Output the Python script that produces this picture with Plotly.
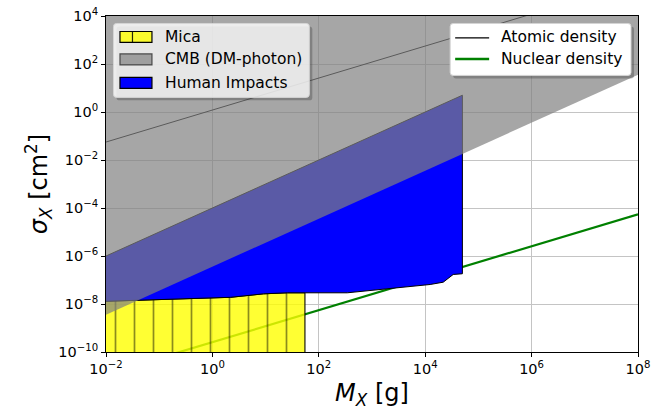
import plotly.graph_objects as go

# ---------------- data ----------------
# Mica exclusion region (upper boundary), mass in g, cross-section in cm^2
mica_mass = [1e-2, 2.2, 9.1, 25.6, 55]
mica_sigma_top = [1.3e-8, 1.9e-8, 2.65e-8, 2.93e-8, 2.93e-8]
mica_sigma_floor = 1e-12

# Human impacts region: lower boundary and upper boundary
hi_mass_low = [1e-2, 2.2, 9.1, 25.6, 343, 927, 3.86e3, 1.24e4, 2.18e4, 2.95e4, 3.36e4, 5e4]
hi_sigma_low = [1.3e-8, 1.9e-8, 2.65e-8, 2.93e-8, 2.93e-8, 3.65e-8, 5.0e-8, 6.5e-8,
                8.1e-8, 1.32e-7, 1.7e-7, 1.82e-7]
hi_mass_up = [5e4, 1e-2]
hi_sigma_up = [5.0, 1e-6]

# CMB (DM-photon) region: lower boundary, open to the top
cmb_mass = [1e-2, 1e8]
cmb_sigma_low = [3.6e-9, 36.0]
cmb_sigma_top = 1e6

# density reference lines
atomic_mass = [1e-2, 1e8]
atomic_sigma = [0.056, 2.6e5]
nuclear_mass = [1e-2, 1e8]
nuclear_sigma = [1.2e-11, 5.5e-5]

# ticks
x_tickvals = [1e-2, 1e0, 1e2, 1e4, 1e6, 1e8]
x_ticktext = ["10<sup>−2</sup>", "10<sup>0</sup>", "10<sup>2</sup>", "10<sup>4</sup>",
              "10<sup>6</sup>", "10<sup>8</sup>"]
y_tickvals = [1e-10, 1e-8, 1e-6, 1e-4, 1e-2, 1e0, 1e2, 1e4]
y_ticktext = ["10<sup>−10</sup>", "10<sup>−8</sup>", "10<sup>−6</sup>", "10<sup>−4</sup>",
              "10<sup>−2</sup>", "10<sup>0</sup>", "10<sup>2</sup>", "10<sup>4</sup>"]

legend_left_labels = ["Mica", "CMB (DM-photon)", "Human Impacts"]
legend_right_labels = ["Atomic density", "Nuclear density"]

FONT = "DejaVu Sans"

fig = go.Figure()

# lines (drawn below the regions)
fig.add_trace(go.Scatter(x=atomic_mass, y=atomic_sigma, mode="lines",
                         line=dict(color="black", width=1),
                         name=legend_right_labels[0]))
fig.add_trace(go.Scatter(x=nuclear_mass, y=nuclear_sigma, mode="lines",
                         line=dict(color="green", width=2.2),
                         name=legend_right_labels[1]))

# Mica
mx = mica_mass + mica_mass[::-1]
my = mica_sigma_top + [mica_sigma_floor] * len(mica_mass)
fig.add_trace(go.Scatter(x=mx, y=my, mode="lines", fill="toself",
                         line=dict(color="black", width=1),
                         fillcolor="rgba(255,255,0,0.8)",
                         fillpattern=dict(shape="|", size=19, solidity=0.09,
                                          fgcolor="rgba(0,0,0,0.9)",
                                          bgcolor="rgba(255,255,0,0.8)"),
                         name=legend_left_labels[0]))

# Human impacts
hx = hi_mass_low + hi_mass_up
hy = hi_sigma_low + hi_sigma_up
fig.add_trace(go.Scatter(x=hx, y=hy, mode="lines", fill="toself",
                         line=dict(color="black", width=1),
                         fillcolor="rgb(0,0,255)",
                         name=legend_left_labels[2]))

# CMB
cx = cmb_mass + cmb_mass[::-1]
cy = cmb_sigma_low + [cmb_sigma_top] * len(cmb_mass)
fig.add_trace(go.Scatter(x=cx, y=cy, mode="lines", fill="toself",
                         line=dict(width=0),
                         fillcolor="rgba(128,128,128,0.7)",
                         name=legend_left_labels[1]))

L, R, T, B = 105.5, 27, 15.5, 62
W, H = 665, 414
pw, ph = W - L - R, H - T - B


def px(x):
    return (x - L) / pw


def py(y):
    return (H - B - y) / ph


def rounded_rect(x0, y0, x1, y1, r):
    rx, ry = r / pw, r / ph
    a0, a1 = px(x0), px(x1)
    b0, b1 = py(y1), py(y0)  # b0 bottom, b1 top
    return (f"M{a0+rx},{b1} L{a1-rx},{b1} Q{a1},{b1} {a1},{b1-ry} "
            f"L{a1},{b0+ry} Q{a1},{b0} {a1-rx},{b0} L{a0+rx},{b0} "
            f"Q{a0},{b0} {a0},{b0+ry} L{a0},{b1-ry} Q{a0},{b1} {a0+rx},{b1} Z")


shapes = []
annotations = []

# custom legend boxes (with shadow)
boxes = [((113, 23, 309, 97), "rgba(255,255,255,0.8)"),
         ((450, 23, 631, 75), "rgba(255,255,255,1)")]
for (x0, y0, x1, y1), bg in boxes:
    shapes.append(dict(type="path", xref="paper", yref="paper", layer="above",
                       path=rounded_rect(x0 + 3, y0 + 3, x1 + 3, y1 + 3, 3),
                       line=dict(width=0), fillcolor="rgba(60,60,60,0.35)"))
    shapes.append(dict(type="path", xref="paper", yref="paper", layer="above",
                       path=rounded_rect(x0, y0, x1, y1, 3),
                       line=dict(color="#d4d4d4", width=1), fillcolor=bg))
# left legend: patches
patch_rows = [31, 53.5, 77]
patch_fill = ["rgba(255,255,0,0.8)", "rgba(128,128,128,0.7)", "rgb(0,0,255)"]
patch_edge = ["black", "rgba(60,60,60,0.9)", "black"]
for yr, fc, ec in zip(patch_rows, patch_fill, patch_edge):
    shapes.append(dict(type="rect", xref="paper", yref="paper", layer="above",
                       x0=px(119.5), x1=px(151.5), y0=py(yr + 11), y1=py(yr),
                       line=dict(color=ec, width=1.2), fillcolor=fc))
# hatch line in mica patch
shapes.append(dict(type="line", xref="paper", yref="paper", layer="above",
                   x0=px(132), x1=px(132), y0=py(42), y1=py(31),
                   line=dict(color="rgba(0,0,0,0.85)", width=1.2)))
for lab, yr in zip(legend_left_labels, [36.5, 59, 82.5]):
    annotations.append(dict(text=lab, xref="paper", yref="paper", x=px(163),
                            y=py(yr), xanchor="left", yanchor="middle",
                            showarrow=False,
                            font=dict(family=FONT, size=15.5, color="black")))
# right legend
for col, wdt, yr in zip(["black", "green"], [1.2, 2.6], [37.5, 58.5]):
    shapes.append(dict(type="line", xref="paper", yref="paper", layer="above",
                       x0=px(455), x1=px(489), y0=py(yr), y1=py(yr),
                       line=dict(color=col, width=wdt)))
for lab, yr in zip(legend_right_labels, [37, 58.5]):
    annotations.append(dict(text=lab, xref="paper", yref="paper", x=px(499),
                            y=py(yr), xanchor="left", yanchor="middle",
                            showarrow=False,
                            font=dict(family=FONT, size=15.5, color="black")))

axis_common = dict(type="log", showline=True, linecolor="black", linewidth=1,
                   mirror=True, ticks="outside", ticklen=4, tickcolor="black",
                   tickwidth=1, showgrid=True, gridcolor="#c4c4c4", gridwidth=1,
                   tickfont=dict(family=FONT, size=14.5, color="black"),
                   zeroline=False, automargin=False)

fig.update_layout(
    width=W, height=H,
    margin=dict(l=L, r=R, t=T, b=B, pad=0),
    paper_bgcolor="white", plot_bgcolor="white",
    font=dict(family=FONT, color="black"),
    xaxis=dict(axis_common, range=[-2, 8], tickvals=x_tickvals, ticktext=x_ticktext,
               title=dict(text="<i>M</i><sub><i>X</i></sub> [g]",
                          font=dict(family=FONT, size=24), standoff=7)),
    yaxis=dict(axis_common, range=[-10, 4], tickvals=y_tickvals, ticktext=y_ticktext,
               title=dict(text="<i>σ</i><sub><i>X</i></sub> [cm<sup>2</sup>]",
                          font=dict(family=FONT, size=24), standoff=3)),
    shapes=shapes,
    annotations=annotations,
    showlegend=False,
)

fig.write_html("out.html",
               config={"displayModeBar": False},
               post_script="document.body.style.margin='0px';"
                           "document.body.style.overflow='hidden';")
